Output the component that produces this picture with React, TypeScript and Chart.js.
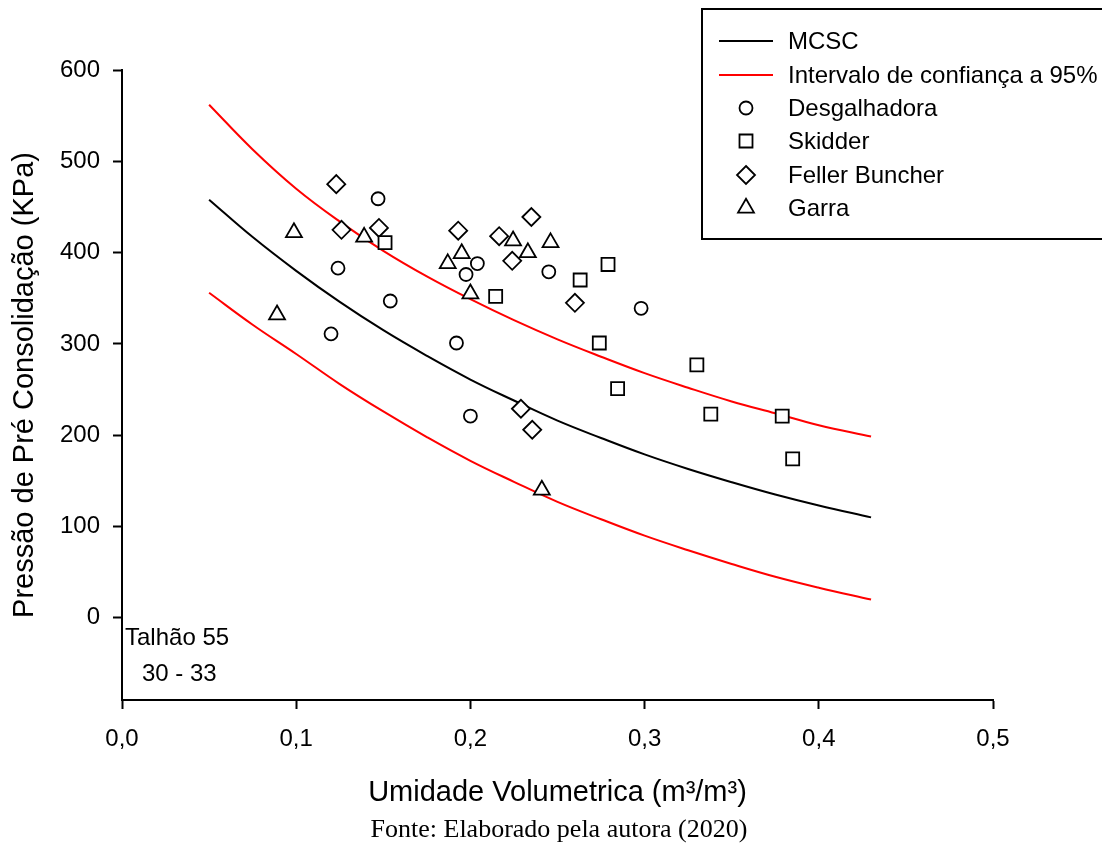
import React, { useEffect, useRef } from 'react';
import { Chart, registerables } from 'chart.js';

Chart.register(...registerables);

const SANS = '"Liberation Sans", Arial, Helvetica, sans-serif';
const SERIF = '"Liberation Serif", "Times New Roman", Times, serif';

// Axis ticks
const xTicks = [0, 0.1, 0.2, 0.3, 0.4, 0.5];
const yTicks = [0, 100, 200, 300, 400, 500, 600];

// Fitted curve (MCSC) and 95% confidence band
const curveX = [0.05, 0.075, 0.1, 0.125, 0.15, 0.175, 0.2, 0.225, 0.25, 0.275, 0.3, 0.325, 0.35, 0.375, 0.4, 0.43];
const mcscY = [458, 417, 380, 346, 315, 287, 261, 238, 216, 197, 179, 163, 148.5, 135, 123, 110];
const upperY = [562, 513, 470, 434, 402, 374, 349, 326, 305, 286, 268, 252, 237, 224, 211, 198.5];
const lowerY = [356, 321, 289, 256, 226, 198, 172, 149, 127, 108, 90, 74, 59, 45, 33, 20];

// Observations
const desgX = [0.120, 0.124, 0.147, 0.154, 0.192, 0.1975, 0.204, 0.200, 0.245, 0.298];
const desgY = [311, 383, 459, 347, 301, 376, 388, 221, 379, 339];

const skidX = [0.151, 0.2145, 0.263, 0.279, 0.274, 0.2845, 0.330, 0.338, 0.379, 0.385];
const skidY = [411, 352, 370, 387, 301, 251, 277, 223, 221, 174];

const fellX = [0.123, 0.126, 0.1475, 0.193, 0.2165, 0.224, 0.235, 0.260, 0.229, 0.2355];
const fellY = [475, 425, 427, 424, 418, 391, 439, 345, 229, 206];

const garraX = [0.089, 0.0987, 0.139, 0.187, 0.195, 0.200, 0.2245, 0.233, 0.246, 0.241];
const garraY = [332, 422, 417, 388, 399, 355, 413, 400, 411, 140];

const legendLabels = ['MCSC', 'Intervalo de confiança a 95%', 'Desgalhadora', 'Skidder', 'Feller Buncher', 'Garra'];
const xTitle = 'Umidade Volumetrica (m³/m³)';
const yTitle = 'Pressão de Pré Consolidação (KPa)';
const noteLines = ['Talhão 55', '30 - 33'];
const sourceText = 'Fonte: Elaborado pela autora (2020)';

const zip = (xs: number[], ys: number[]) => xs.map((x, i) => ({ x, y: ys[i] }));

function drawMarker(ctx: CanvasRenderingContext2D, kind: string, x: number, y: number) {
  ctx.beginPath();
  if (kind === 'circle') {
    ctx.arc(x, y, 6.5, 0, Math.PI * 2);
  } else if (kind === 'rect') {
    ctx.rect(x - 6.5, y - 6.5, 13, 13);
  } else if (kind === 'rectRot') {
    const r = 9;
    ctx.moveTo(x, y - r);
    ctx.lineTo(x + r, y);
    ctx.lineTo(x, y + r);
    ctx.lineTo(x - r, y);
    ctx.closePath();
  } else {
    const r = 9.2;
    ctx.moveTo(x, y - r);
    ctx.lineTo(x + 0.866 * r, y + r / 2);
    ctx.lineTo(x - 0.866 * r, y + r / 2);
    ctx.closePath();
  }
  ctx.fillStyle = '#fff';
  ctx.fill();
  ctx.lineWidth = 1.8;
  ctx.strokeStyle = '#000';
  ctx.stroke();
}

const overlayPlugin = {
  id: 'overlay',
  afterDraw(chart: any) {
    const ctx: CanvasRenderingContext2D = chart.ctx;
    ctx.save();
    // Legend box
    ctx.lineWidth = 2;
    ctx.strokeStyle = '#000';
    ctx.strokeRect(702, 9, 440, 230);
    const rows = [41, 75, 108, 141, 175, 208];
    const kinds = ['line', 'line', 'circle', 'rect', 'rectRot', 'triangle'];
    const colors = ['#000', '#ff0000'];
    ctx.font = `24px ${SANS}`;
    ctx.textBaseline = 'middle';
    ctx.textAlign = 'left';
    legendLabels.forEach((label, i) => {
      const y = rows[i];
      if (kinds[i] === 'line') {
        ctx.beginPath();
        ctx.moveTo(719, y);
        ctx.lineTo(773, y);
        ctx.lineWidth = 2;
        ctx.strokeStyle = colors[i];
        ctx.stroke();
      } else {
        drawMarker(ctx, kinds[i], 746, y);
      }
      ctx.fillStyle = '#000';
      ctx.fillText(label, 788, y + 1);
    });

    // In-plot note
    ctx.font = `24px ${SANS}`;
    ctx.fillStyle = '#000';
    ctx.fillText(noteLines[0], 125, 638);
    ctx.fillText(noteLines[1], 142, 674);

    // Source line
    ctx.font = `26px ${SERIF}`;
    ctx.textAlign = 'center';
    ctx.fillText(sourceText, 559, 830);
    ctx.restore();
  },
};

export default function App() {
  const ref = useRef<HTMLCanvasElement>(null);

  useEffect(() => {
    document.body.style.margin = '0';
    const canvas = ref.current!;
    const pointCommon = {
      showLine: false,
      pointBackgroundColor: '#ffffff',
      pointBorderColor: '#000000',
      pointBorderWidth: 1.8,
    };
    const lineCommon = {
      showLine: true,
      pointRadius: 0,
      borderWidth: 2,
      fill: false,
      tension: 0.4,
    };
    const chart = new Chart(canvas, {
      type: 'scatter',
      data: {
        datasets: [
          { label: legendLabels[2], data: zip(desgX, desgY), pointStyle: 'circle', pointRadius: 6.5, ...pointCommon },
          { label: legendLabels[3], data: zip(skidX, skidY), pointStyle: 'rect', pointRadius: 9.2, ...pointCommon },
          { label: legendLabels[4], data: zip(fellX, fellY), pointStyle: 'rectRot', pointRadius: 9, ...pointCommon },
          { label: legendLabels[5], data: zip(garraX, garraY), pointStyle: 'triangle', pointRadius: 9.2, ...pointCommon },
          { label: legendLabels[0], data: zip(curveX, mcscY), borderColor: '#000000', ...lineCommon },
          { label: legendLabels[1], data: zip(curveX, upperY), borderColor: '#ff0000', ...lineCommon },
          { label: legendLabels[1] + ' ', data: zip(curveX, lowerY), borderColor: '#ff0000', ...lineCommon },
        ] as any,
      },
      options: {
        responsive: false,
        animation: false,
        events: [],
        layout: { padding: { top: 70, right: 109, bottom: 0, left: 0 } },
        plugins: {
          legend: { display: false },
          tooltip: { enabled: false },
          title: { display: false },
        },
        scales: {
          x: {
            type: 'linear',
            min: 0,
            max: 0.5,
            afterBuildTicks: (scale: any) => {
              scale.ticks = xTicks.map((v) => ({ value: v }));
            },
            afterFit: (scale: any) => {
              scale.height = 145;
            },
            ticks: {
              color: '#000',
              font: { family: SANS, size: 24 },
              padding: 16,
              maxRotation: 0,
              autoSkip: false,
              callback: (v: any) => Number(v).toFixed(1).replace('.', ','),
            },
            grid: {
              display: true,
              drawOnChartArea: false,
              drawTicks: true,
              tickLength: 9,
              tickWidth: 2,
              tickColor: '#000',
            },
            border: { display: true, color: '#000', width: 2 },
            title: {
              display: true,
              text: xTitle,
              color: '#000',
              font: { family: SANS, size: 29 },
              padding: { top: 0, bottom: 35 },
            },
          },
          y: {
            type: 'linear',
            min: -90,
            max: 600,
            afterBuildTicks: (scale: any) => {
              scale.ticks = yTicks.map((v) => ({ value: v }));
            },
            afterFit: (scale: any) => {
              scale.width = 122;
            },
            ticks: {
              color: '#000',
              font: { family: SANS, size: 24 },
              padding: 13,
              autoSkip: false,
              callback: (v: any) => String(v),
            },
            grid: {
              display: true,
              drawOnChartArea: false,
              drawTicks: true,
              tickLength: 9,
              tickWidth: 2,
              tickColor: '#000',
            },
            border: { display: true, color: '#000', width: 2 },
            title: {
              display: true,
              text: yTitle,
              color: '#000',
              font: { family: SANS, size: 29 },
              padding: { top: 8, bottom: 0 },
            },
          },
        },
      } as any,
      plugins: [overlayPlugin],
    });
    return () => chart.destroy();
  }, []);

  return (
    <canvas
      ref={ref}
      width={1102}
      height={845}
      style={{ display: 'block', width: '1102px', height: '845px' }}
    />
  );
}
